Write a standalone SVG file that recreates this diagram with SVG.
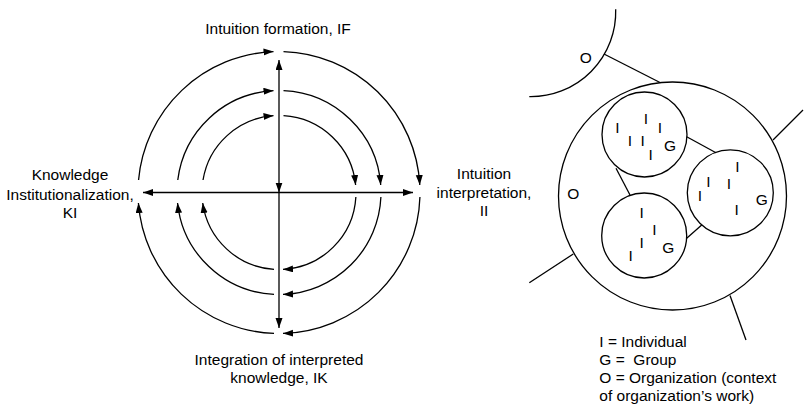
<svg xmlns="http://www.w3.org/2000/svg" width="807" height="404" viewBox="0 0 807 404">
<style>
text{font-family:"Liberation Sans",Arial,Helvetica,sans-serif;font-size:15.5px;fill:#000}
.c{text-anchor:middle}
.ln{fill:none;stroke:#000;stroke-width:1.3}
.arr{fill:none;stroke:#000;stroke-width:1.3;marker-end:url(#ah)}
.ax{fill:none;stroke:#000;stroke-width:1.3;marker-start:url(#ah);marker-end:url(#ah)}
.shape{fill:none;stroke:#000;stroke-width:1.3}
</style>
<defs>
<marker id="ah" markerUnits="userSpaceOnUse" markerWidth="11" markerHeight="8" refX="10" refY="3.5" orient="auto-start-reverse" viewBox="0 0 11 8">
<path d="M0,0 L10,3.5 L0,7 z" fill="#000"/>
</marker>
</defs>
<rect width="807" height="404" fill="#fff"/>

<g id="connectors">
<path class="ax" d="M279,192.5 L279,60"/>
<path class="ax" d="M279,192.5 L279,328" style="marker-start:none"/>
<path class="ax" d="M279,192.5 L143,192.5" style="marker-start:none"/>
<path class="ax" d="M279,192.5 L413,192.5" style="marker-start:none"/>
<!-- outer r=141 -->
<path class="arr" d="M138.56,180 A141,141 0 0 1 273.5,51.61"/>
<path class="arr" d="M283.5,51.57 A141,141 0 0 1 419.8,185"/>
<path class="arr" d="M419.93,197 A141,141 0 0 1 283,333.44"/>
<path class="arr" d="M274,333.41 A141,141 0 0 1 138.39,203"/>
<!-- middle r=102 -->
<path class="arr" d="M177.77,180 A102,102 0 0 1 273.5,90.65"/>
<path class="arr" d="M283.5,90.6 A102,102 0 0 1 380.72,185"/>
<path class="arr" d="M380.9,197 A102,102 0 0 1 283,294.42"/>
<path class="arr" d="M274,294.38 A102,102 0 0 1 177.54,203"/>
<!-- inner r=77 -->
<path class="arr" d="M203.02,180 A77,77 0 0 1 273.5,115.7"/>
<path class="arr" d="M283.5,115.63 A77,77 0 0 1 355.63,185"/>
<path class="arr" d="M355.87,197 A77,77 0 0 1 283,269.4"/>
<path class="arr" d="M274,269.34 A77,77 0 0 1 202.72,203"/>
<!-- right diagram links -->
<line class="ln" x1="604" y1="54" x2="660" y2="82.5"/>
<line class="ln" x1="773" y1="140" x2="803" y2="110"/>
<line class="ln" x1="573.3" y1="254" x2="529.3" y2="282.7"/>
<line class="ln" x1="730" y1="295.5" x2="746" y2="340"/>
<line class="ln" x1="686.7" y1="136.7" x2="716" y2="152.7"/>
<line class="ln" x1="616" y1="168.3" x2="630" y2="195"/>
<line class="ln" x1="686.7" y1="238.3" x2="701.7" y2="225"/>
</g>

<g id="IF"><text class="c" x="278" y="34">Intuition formation, IF</text></g>
<g id="II"><text class="c" x="484" y="179">Intuition</text><text class="c" x="484" y="197.5">interpretation,</text><text class="c" x="484" y="215.5">II</text></g>
<g id="IK"><text class="c" x="279" y="365">Integration of interpreted</text><text class="c" x="279" y="383">knowledge, IK</text></g>
<g id="KI"><text class="c" x="70" y="180">Knowledge</text><text class="c" x="70" y="199.5">Institutionalization,</text><text class="c" x="70" y="218">KI</text></g>

<g id="other-organization">
<path class="shape" d="M615.7,9.3 A85,85 0 0 1 529.3,96.7"/>
<text class="c" x="585.7" y="63.3">O</text>
</g>

<g id="organization">
<circle class="shape" cx="672.5" cy="196" r="114"/>
<text class="c" x="573.3" y="199">O</text>
</g>

<g id="group-1">
<circle class="shape" cx="644.5" cy="134.5" r="42.5"/>
<text class="c" x="617.3" y="132.7">I</text>
<text class="c" x="646" y="124.3">I</text>
<text class="c" x="660" y="132.7">I</text>
<text class="c" x="630" y="146">I</text>
<text class="c" x="642.7" y="145.5">I</text>
<text class="c" x="650.7" y="160">I</text>
<text class="c" x="670" y="151">G</text>
</g>

<g id="group-2">
<circle class="shape" cx="730.3" cy="192.8" r="43"/>
<text class="c" x="737.3" y="171.7">I</text>
<text class="c" x="708.3" y="186.7">I</text>
<text class="c" x="729" y="189.3">I</text>
<text class="c" x="700" y="201">I</text>
<text class="c" x="736.7" y="215">I</text>
<text class="c" x="761.7" y="205">G</text>
</g>

<g id="group-3">
<circle class="shape" cx="644.2" cy="235.5" r="42.5"/>
<text class="c" x="641.7" y="218">I</text>
<text class="c" x="654.3" y="234.7">I</text>
<text class="c" x="641.7" y="248">I</text>
<text class="c" x="630.7" y="260.7">I</text>
<text class="c" x="668.3" y="253">G</text>
</g>

<g id="legend">
<text x="599.3" y="347">I = Individual</text>
<text x="599.3" y="365" xml:space="preserve">G =  Group</text>
<text x="599.3" y="383">O = Organization (context</text>
<text x="599.3" y="401">of organization’s work)</text>
</g>
</svg>
